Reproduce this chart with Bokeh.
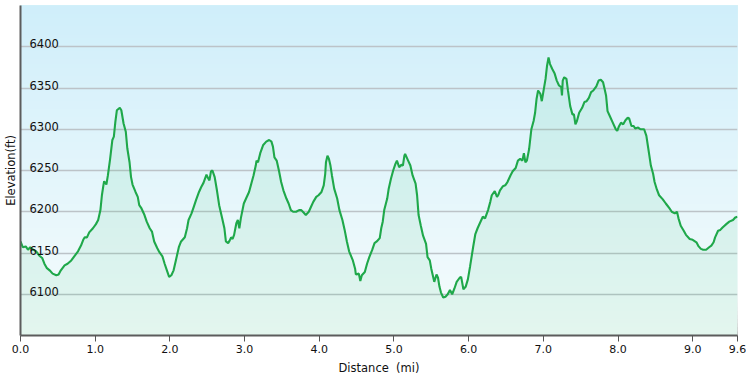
from bokeh.plotting import figure
from bokeh.models import Range1d, FixedTicker, BoxAnnotation, ColumnDataSource
from bokeh.core.properties import value
from bokeh.embed import file_html
from bokeh.resources import INLINE

# ---- data ----
dist = [0.00, 0.03, 0.07, 0.10, 0.13, 0.17, 0.21, 0.25, 0.29, 0.32, 0.35, 0.39, 0.43, 0.48, 0.51, 0.54,
        0.59, 0.63, 0.68, 0.72, 0.77, 0.81, 0.84, 0.86, 0.89, 0.92, 0.97, 1.01, 1.04, 1.07, 1.09, 1.11,
        1.12, 1.15, 1.17, 1.20, 1.23, 1.25, 1.27, 1.29, 1.33, 1.35, 1.38, 1.41, 1.43, 1.46, 1.48, 1.50,
        1.54, 1.57, 1.59, 1.62, 1.66, 1.69, 1.73, 1.76, 1.79, 1.83, 1.86, 1.90, 1.93, 1.96, 1.99, 2.02,
        2.05, 2.08, 2.12, 2.15, 2.20, 2.23, 2.25, 2.29, 2.32, 2.35, 2.39, 2.42, 2.45, 2.49, 2.51, 2.53,
        2.55, 2.57, 2.60, 2.63, 2.66, 2.70, 2.73, 2.75, 2.78, 2.80, 2.82, 2.84, 2.86, 2.89, 2.91, 2.93,
        2.95, 2.99, 3.02, 3.06, 3.09, 3.12, 3.15, 3.16, 3.18, 3.21, 3.25, 3.29, 3.33, 3.36, 3.38, 3.40,
        3.43, 3.46, 3.49, 3.52, 3.56, 3.59, 3.62, 3.65, 3.69, 3.73, 3.76, 3.79, 3.82, 3.86, 3.89, 3.92,
        3.96, 3.99, 4.03, 4.06, 4.08, 4.09, 4.11, 4.13, 4.15, 4.17, 4.20, 4.24, 4.27, 4.31, 4.34, 4.37,
        4.40, 4.45, 4.48, 4.49, 4.53, 4.55, 4.57, 4.61, 4.64, 4.67, 4.71, 4.74, 4.77, 4.81, 4.83, 4.85,
        4.87, 4.91, 4.93, 4.96, 4.99, 5.02, 5.04, 5.07, 5.10, 5.12, 5.14, 5.15, 5.19, 5.22, 5.25, 5.29,
        5.31, 5.33, 5.36, 5.39, 5.43, 5.45, 5.48, 5.50, 5.52, 5.54, 5.57, 5.59, 5.61, 5.63, 5.66, 5.69,
        5.72, 5.75, 5.78, 5.81, 5.84, 5.88, 5.90, 5.93, 5.96, 5.99, 6.02, 6.06, 6.09, 6.12, 6.15, 6.19,
        6.22, 6.26, 6.29, 6.31, 6.35, 6.38, 6.40, 6.42, 6.46, 6.49, 6.52, 6.56, 6.59, 6.63, 6.66, 6.69,
        6.72, 6.74, 6.76, 6.78, 6.81, 6.84, 6.87, 6.89, 6.91, 6.93, 6.96, 6.98, 7.00, 7.03, 7.05, 7.07,
        7.09, 7.12, 7.15, 7.18, 7.21, 7.24, 7.25, 7.26, 7.28, 7.31, 7.33, 7.36, 7.39, 7.41, 7.43, 7.45,
        7.48, 7.52, 7.55, 7.58, 7.61, 7.64, 7.67, 7.71, 7.74, 7.77, 7.80, 7.82, 7.84, 7.86, 7.89, 7.93,
        7.97, 7.99, 8.01, 8.04, 8.07, 8.10, 8.13, 8.15, 8.18, 8.21, 8.23, 8.27, 8.30, 8.33, 8.35, 8.38,
        8.40, 8.42, 8.44, 8.47, 8.49, 8.52, 8.55, 8.60, 8.64, 8.69, 8.72, 8.76, 8.79, 8.81, 8.84, 8.88,
        8.91, 8.96, 9.00, 9.05, 9.08, 9.11, 9.14, 9.18, 9.22, 9.25, 9.28, 9.30, 9.34, 9.37, 9.40, 9.45,
        9.49, 9.54, 9.57, 9.60]

elev = [6164, 6157, 6158, 6154, 6157, 6154, 6152, 6147, 6144, 6137, 6132, 6129, 6125, 6123, 6124, 6129,
        6135, 6137, 6141, 6146, 6152, 6159, 6166, 6169, 6169, 6175, 6180, 6185, 6190, 6202, 6220, 6232,
        6237, 6233, 6244, 6264, 6287, 6291, 6309, 6323, 6326, 6323, 6307, 6297, 6277, 6260, 6242, 6233,
        6224, 6218, 6208, 6204, 6196, 6188, 6180, 6176, 6164, 6156, 6151, 6146, 6137, 6129, 6121, 6123,
        6129, 6141, 6157, 6164, 6169, 6180, 6190, 6198, 6206, 6214, 6224, 6230, 6235, 6245, 6241, 6238,
        6249, 6250, 6242, 6226, 6208, 6192, 6180, 6164, 6162, 6165, 6169, 6167, 6172, 6186, 6190, 6180,
        6192, 6210, 6216, 6224, 6234, 6244, 6256, 6262, 6260, 6271, 6281, 6285, 6287, 6285, 6279, 6266,
        6262, 6250, 6236, 6226, 6216, 6210, 6202, 6200, 6200, 6202, 6202, 6199, 6196, 6200, 6206, 6212,
        6218, 6220, 6224, 6232, 6246, 6260, 6268, 6264, 6256, 6244, 6228, 6216, 6202, 6190, 6178, 6164,
        6152, 6141, 6131, 6124, 6125, 6116, 6123, 6127, 6137, 6145, 6154, 6162, 6164, 6168, 6180, 6188,
        6202, 6216, 6228, 6240, 6250, 6258, 6262, 6254, 6257, 6256, 6268, 6270, 6262, 6256, 6244, 6234,
        6220, 6196, 6183, 6171, 6161, 6145, 6141, 6131, 6123, 6115, 6124, 6120, 6109, 6102, 6096, 6097,
        6100, 6105, 6100, 6107, 6115, 6120, 6121, 6106, 6109, 6118, 6134, 6157, 6173, 6180, 6186, 6194,
        6192, 6202, 6212, 6220, 6225, 6218, 6221, 6226, 6231, 6232, 6236, 6244, 6249, 6253, 6262, 6264,
        6262, 6271, 6260, 6262, 6276, 6300, 6310, 6320, 6337, 6347, 6343, 6334, 6345, 6361, 6377, 6387,
        6379, 6373, 6368, 6359, 6353, 6351, 6341, 6359, 6363, 6361, 6347, 6328, 6318, 6318, 6306, 6310,
        6320, 6326, 6333, 6334, 6338, 6345, 6347, 6352, 6359, 6360, 6357, 6349, 6341, 6322, 6316, 6308,
        6300, 6298, 6303, 6308, 6306, 6311, 6314, 6313, 6304, 6304, 6301, 6302, 6300, 6300, 6300, 6292,
        6280, 6268, 6256, 6246, 6236, 6227, 6220, 6215, 6210, 6204, 6200, 6198, 6200, 6192, 6183, 6177,
        6172, 6167, 6166, 6163, 6158, 6155, 6154, 6154, 6157, 6159, 6163, 6169, 6177, 6178, 6181, 6185,
        6188, 6190, 6193, 6194]

x_ticks = [0, 1, 2, 3, 4, 5, 6, 7, 8, 9, 9.6]
x_tick_labels = ["0.0", "1.0", "2.0", "3.0", "4.0", "5.0", "6.0", "7.0", "8.0", "9.0", "9.6"]
y_ticks = [6100, 6150, 6200, 6250, 6300, 6350, 6400]
y_tick_labels = ["6100", "6150", "6200", "6250", "6300", "6350", "6400"]
x_min, x_max = 0, 9.6
y_min, y_max = 6050, 6450

FONT = "DejaVu Sans"

p = figure(width=746, height=382, output_backend="svg", toolbar_location=None,
           x_range=Range1d(x_min, x_max), y_range=Range1d(y_min, y_max),
           min_border_left=19, min_border_right=9, min_border_top=5, min_border_bottom=47)
p.background_fill_color = "white"
p.border_fill_color = "white"
p.outline_line_color = "#b9b9b9"
p.outline_line_width = 1

# background vertical gradient (light blue at top to near-white at bottom)
top_col = (207, 238, 250)
bot_col = (246, 252, 252)
n_bands = 80
for i in range(n_bands):
    t = i / n_bands
    c = tuple(int(round(bot_col[k] + (top_col[k] - bot_col[k]) * t)) for k in range(3))
    p.add_layout(BoxAnnotation(bottom=y_min + (y_max - y_min) * t,
                               fill_color="#%02x%02x%02x" % c, fill_alpha=1.0,
                               line_color=None, level="image"))

# grid
p.xgrid.visible = False
p.ygrid.ticker = FixedTicker(ticks=y_ticks)
p.ygrid.grid_line_color = "#bcc3c8"
p.ygrid.grid_line_width = 1.3

# area + line
p.varea(x=dist, y1=y_min, y2=elev, fill_color="#3cc878", fill_alpha=0.1)
p.line(dist, elev, line_color="#1fa84a", line_width=2.1)

# y tick labels inside the plot, above each grid line
ysrc = ColumnDataSource(dict(x=[x_min] * len(y_ticks), y=y_ticks, text=y_tick_labels))
p.text("x", "y", "text", source=ysrc, x_offset=9, y_offset=-3,
       text_align="left", text_baseline="alphabetic",
       text_font=value(FONT), text_font_size="11.5px", text_color="#111111")

# x axis
xa = p.xaxis[0]
xa.ticker = FixedTicker(ticks=x_ticks)
xa.major_label_overrides = {float(k): v for k, v in zip(x_ticks, x_tick_labels)}
xa.axis_label = "Distance\u00a0\u00a0(mi)"
xa.axis_label_text_font = FONT
xa.axis_label_text_font_size = "11.5px"
xa.axis_label_text_font_style = "normal"
xa.axis_label_text_color = "#111111"
xa.axis_label_standoff = 5
xa.major_label_text_font = FONT
xa.major_label_text_font_size = "11px"
xa.major_label_text_color = "#111111"
xa.major_label_standoff = 3
xa.major_tick_in = 0
xa.major_tick_out = 6
xa.minor_tick_out = 0
xa.minor_tick_in = 0
xa.major_tick_line_color = "#555555"
xa.axis_line_color = "#5c5c5c"
xa.axis_line_width = 2

# y axis (title only, labels are drawn inside)
ya = p.yaxis[0]
ya.ticker = FixedTicker(ticks=[])
ya.axis_label = "Elevation(ft)"
ya.axis_label_text_font = FONT
ya.axis_label_text_font_size = "11.5px"
ya.axis_label_text_font_style = "normal"
ya.axis_label_text_color = "#111111"
ya.axis_label_standoff = 3
ya.major_label_standoff = 0
ya.major_tick_out = 0
ya.major_tick_in = 0
ya.minor_tick_out = 0
ya.axis_line_color = "#5c5c5c"
ya.axis_line_width = 2

open("out.html", "w").write(file_html(p, INLINE))
